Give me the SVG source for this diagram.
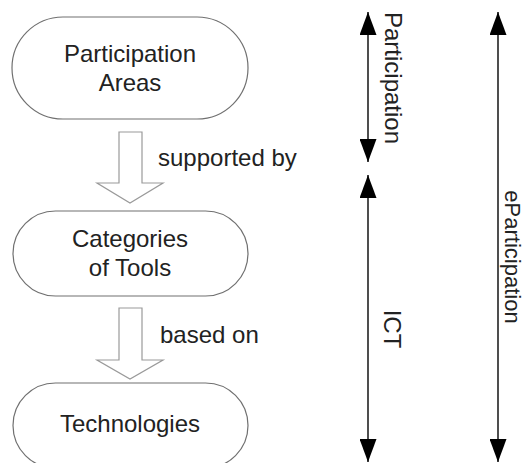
<svg xmlns="http://www.w3.org/2000/svg" width="527" height="463" viewBox="0 0 527 463">
<style>
.node{fill:#fff;stroke:#707070;stroke-width:1.2}
.blk{fill:#fff;stroke:#9a9a9a;stroke-width:1.2}
.t{font-family:"Liberation Sans",Arial,sans-serif;font-size:24px;fill:#222}
.c{text-anchor:middle}
.v{stroke:#222;stroke-width:1.6;fill:none;marker-start:url(#ah);marker-end:url(#ah)}
</style>
<defs>
<marker id="ah" markerUnits="userSpaceOnUse" markerWidth="23" markerHeight="17" refX="23" refY="8.5" orient="auto-start-reverse">
<path d="M0,0 L23,8.5 L0,17 Z" fill="#000"/>
</marker>
</defs>
<rect width="527" height="463" fill="#fff"/>
<g id="node-participation-areas">
<rect class="node" x="12" y="17" width="236" height="102" rx="51" ry="51"/>
<text class="t c" x="130" y="62">Participation</text>
<text class="t c" x="130" y="91">Areas</text>
</g>
<g id="node-categories">
<rect class="node" x="13" y="211" width="235" height="85" rx="42.5" ry="42.5"/>
<text class="t c" x="130" y="247">Categories</text>
<text class="t c" x="130" y="276">of Tools</text>
</g>
<g id="node-technologies">
<rect class="node" x="13" y="383" width="235" height="85" rx="42.5" ry="42.5"/>
<text class="t c" x="130" y="432">Technologies</text>
</g>
<g id="connectors">
<polygon class="blk" points="119,132 142,132 142,183 163,183 130,203 97,183 119,183"/>
<text class="t" x="158" y="166">supported by</text>
<polygon class="blk" points="119,308 142,308 142,360 163,360 130,379 97,360 119,360"/>
<text class="t" x="160" y="343">based on</text>
<line class="v" x1="368" y1="12" x2="368" y2="162"/>
<line class="v" x1="368" y1="175" x2="368" y2="462"/>
<line class="v" x1="498" y1="12" x2="498" y2="462"/>
</g>
<g id="labels">
<text class="t c" transform="translate(385,78) rotate(90)">Participation</text>
<text class="t c" transform="translate(384,329) rotate(90)">ICT</text>
<text class="t c" style="font-size:22px" transform="translate(505,257) rotate(90)">eParticipation</text>
</g>
</svg>
